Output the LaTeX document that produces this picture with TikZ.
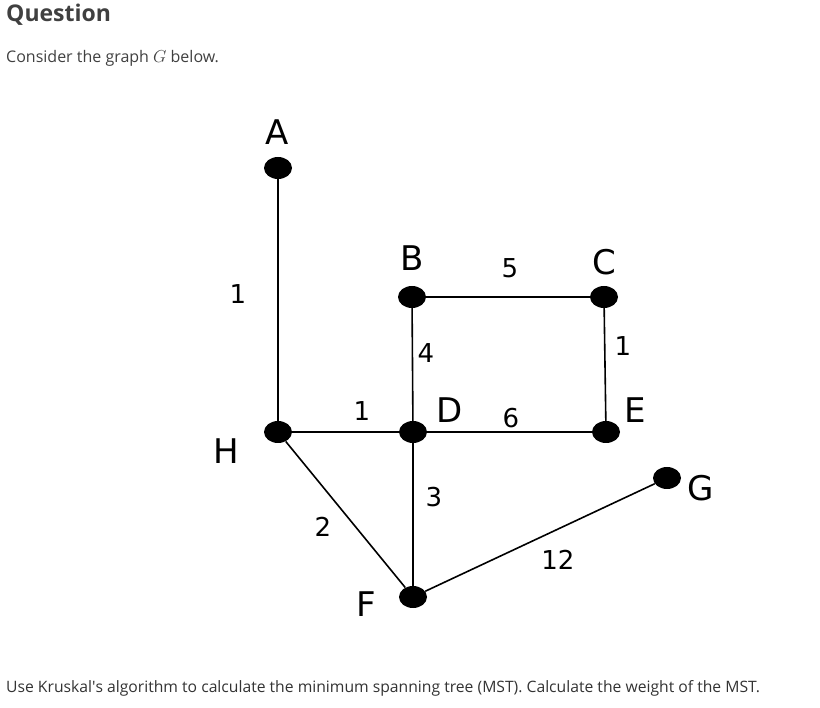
\documentclass[tikz,border=0pt]{standalone}
\usepackage{fontspec}
\setmainfont{Open Sans}
\newfontfamily\graphfont{DejaVu Sans}
\usetikzlibrary{shapes.geometric}
\begin{document}
\begin{tikzpicture}[x=1pt,y=-1pt,
  vtx/.style={ellipse,fill=black,minimum width=28pt,minimum height=22pt,inner sep=0pt},
  lbl/.style={font=\graphfont\fontsize{34}{36}\selectfont,inner sep=0pt},
  wt/.style={font=\graphfont\fontsize{26}{28}\selectfont,inner sep=0pt},
  edge/.style={line width=1.6pt}]
\useasboundingbox (0,0) rectangle (820,708);
\node[anchor=west,inner sep=0pt,text=black!75,font=\fontsize{23}{26}\selectfont\bfseries] (q) at (6,15) {Question};
\node[anchor=west,inner sep=0pt,text=black!75,font=\fontsize{16}{18}\selectfont] (c) at (6,58) {Consider the graph $G$ below.};
\node[anchor=west,inner sep=0pt,text=black!80,font=\fontsize{15.7}{18}\selectfont] (u) at (6,688) {Use Kruskal\textquotesingle s algorithm to calculate the minimum spanning tree (MST). Calculate the weight of the MST.};
\node[vtx] (A) at (278,168) {};
\node[vtx] (B) at (412,297) {};
\node[vtx] (C) at (604,297) {};
\node[vtx] (H) at (278,432) {};
\node[vtx] (D) at (413,432) {};
\node[vtx] (E) at (606,432) {};
\node[vtx] (G) at (667,478) {};
\node[vtx] (F) at (413,597) {};
\draw[edge] (A) -- (H);
\draw[edge] (B) -- (C);
\draw[edge] (B) -- (D);
\draw[edge] (C) -- (E);
\draw[edge] (H) -- (D);
\draw[edge] (D) -- (E);
\draw[edge] (D) -- (F);
\draw[edge] (H) -- (F);
\draw[edge] (F) -- (G);
\node[lbl] (lA) at (277,132) {A};
\node[lbl] (lB) at (412,258) {B};
\node[lbl] (lC) at (604,262) {C};
\node[lbl] (lH) at (226,451) {H};
\node[lbl] (lD) at (450,410) {D};
\node[lbl] (lE) at (635,410) {E};
\node[lbl] (lG) at (701,488) {G};
\node[lbl] (lF) at (366,604) {F};
\node[wt] (w1) at (238,294) {1};
\node[wt] (w2) at (510,268) {5};
\node[wt] (w3) at (426,353) {4};
\node[wt] (w4) at (623,346) {1};
\node[wt] (w5) at (362,411) {1};
\node[wt] (w6) at (511,418) {6};
\node[wt] (w7) at (434,497) {3};
\node[wt] (w8) at (323,527) {2};
\node[wt] (w9) at (558,560) {12};
\end{tikzpicture}
\end{document}
